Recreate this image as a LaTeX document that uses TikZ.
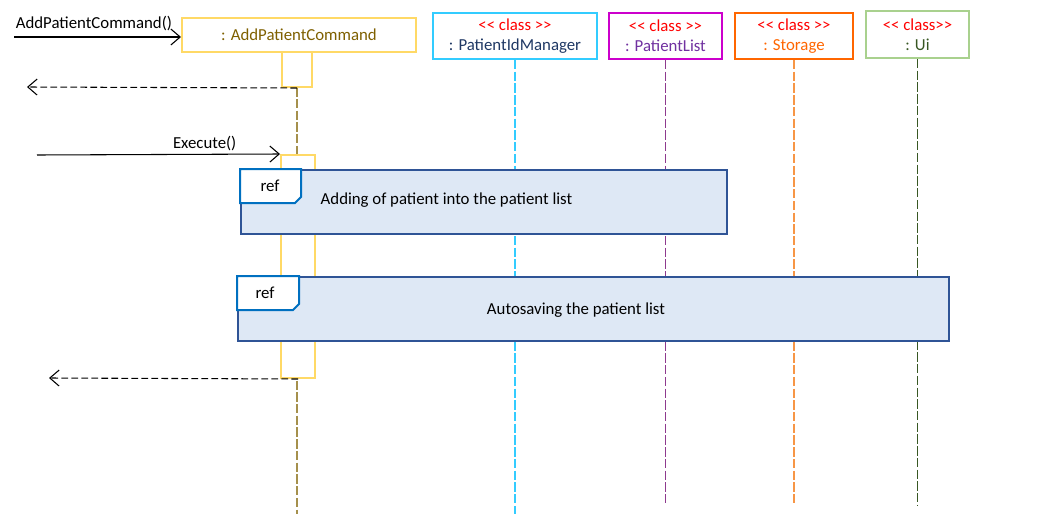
\documentclass[tikz,border=0pt]{standalone}
\usepackage{fontspec}
\setmainfont{Carlito}
\usetikzlibrary{arrows.meta,positioning,calc}
\definecolor{actgold}{HTML}{FFD966}
\definecolor{olivetxt}{HTML}{7F6000}
\definecolor{idblue}{HTML}{33CCFF}
\definecolor{navytxt}{HTML}{1F3864}
\definecolor{listmag}{HTML}{CC00CC}
\definecolor{listtxt}{HTML}{7030A0}
\definecolor{listline}{HTML}{8E3A8E}
\definecolor{stororange}{HTML}{FF6600}
\definecolor{storline}{HTML}{F79646}
\definecolor{uigreen}{HTML}{A9D18E}
\definecolor{uitxt}{HTML}{385723}
\definecolor{reffill}{HTML}{DEE8F5}
\definecolor{refedge}{HTML}{2F5496}
\definecolor{tabedge}{HTML}{0070C0}

\begin{document}
\begin{tikzpicture}[
    x=0.75pt, y=-0.75pt,
    every node/.style={font=\fontsize{12.6}{15}\selectfont},
    head/.style={draw, line width=1.5pt, fill=white, inner sep=0pt, align=center},
    act/.style={draw=actgold, line width=1.5pt, fill=white, inner sep=0pt, minimum width=#1},
    life/.style={dash pattern=on 7pt off 1.8pt, line width=0.8pt},
    refbox/.style={draw=refedge, line width=1.5pt, fill=reffill, inner sep=0pt, minimum height=48pt},
    reftab/.style={draw=tabedge, line width=1.5pt, fill=white},
    msg/.style={-{Straight Barb[length=7pt,width=12pt]}, line width=0.8pt},
    reply/.style={msg, dash pattern=on 5pt off 2.5pt},
]
\useasboundingbox (0,0) rectangle (1059,514);

% lifeline heads
\node[head, draw=actgold, text=olivetxt, minimum width=175.5pt, minimum height=25.5pt] (cmd) at (299,35) {: AddPatientCommand};
\node[head, draw=idblue, text=navytxt, minimum width=123pt, minimum height=34.5pt] (pidm) at (515,36) {\textcolor{red}{{<}{<} class {>}{>}}\\: PatientIdManager};
\node[head, draw=listmag, text=listtxt, minimum width=84.75pt, minimum height=34.5pt] (plist) at (665.5,36) {\textcolor{red}{{<}{<} class {>}{>}}\\: PatientList};
\node[head, draw=stororange, text=stororange, minimum width=88.5pt, minimum height=34.5pt] (stor) at (794,36) {\textcolor{red}{{<}{<} class {>}{>}}\\: Storage};
\node[head, draw=uigreen, text=uitxt, minimum width=77.25pt, minimum height=35.25pt] (ui) at (917.5,34.5) {\textcolor{red}{{<}{<} class{>}{>}}\\: Ui};

% lifelines
\coordinate (bot) at (0,514);
\coordinate (bot2) at (0,505);
\draw[life, draw=olivetxt!70] (297,52) -- (297,514);
\draw[life, draw=idblue] (pidm.south) -- (pidm.south |- bot);
\draw[life, draw=listline] (plist.south) -- (plist.south |- bot2);
\draw[life, draw=storline] (stor.south) -- (stor.south |- bot2);
\draw[life, draw=uitxt] (ui.south) -- (ui.south |- bot2);

% activations
\node[act=22.5pt, minimum height=26.25pt] (act1) at (297,69.5) {};
\node[act=25.5pt, minimum height=167.25pt] (act2) at (298,266.5) {};

% messages
\coordinate (in1) at (14,37);
\coordinate (ret1) at (27,87);
\coordinate (in2) at (37,155);
\coordinate (ret2) at (49,378);
\draw[msg] (in1) -- (in1 -| cmd.west) node[pos=0, above right, inner sep=1pt, yshift=3pt] {AddPatientCommand()};
\draw[reply] (act1.south) -- (ret1);
\draw[msg] (in2) -- (act2.north west) node[pos=0.69, above, inner sep=2pt] {Execute()};
\draw[reply] (act2.south) -- (ret2);

% ref fragments
\node[refbox, minimum width=364.5pt] (ref1) at (484,202) {};
\draw[reftab] (ref1.north west) -- ++(61,0) -- ++(0,28) -- ++(-6,6) -- ++(-55,0) -- cycle;
\node (tab1) at ($(ref1.north west)+(30,17)$) {ref};
\node[anchor=west] (txt1) at (316,200) {Adding of patient into the patient list};

\node[refbox, minimum width=533.25pt] (ref2) at (593.5,309) {};
\draw[reftab] (ref2.north west) -- ++(62,0) -- ++(0,28) -- ++(-6,6) -- ++(-56,0) -- cycle;
\node (tab2) at ($(ref2.north west)+(28,17)$) {ref};
\node (txt2) at (576,310) {Autosaving the patient list};
\end{tikzpicture}
\end{document}
